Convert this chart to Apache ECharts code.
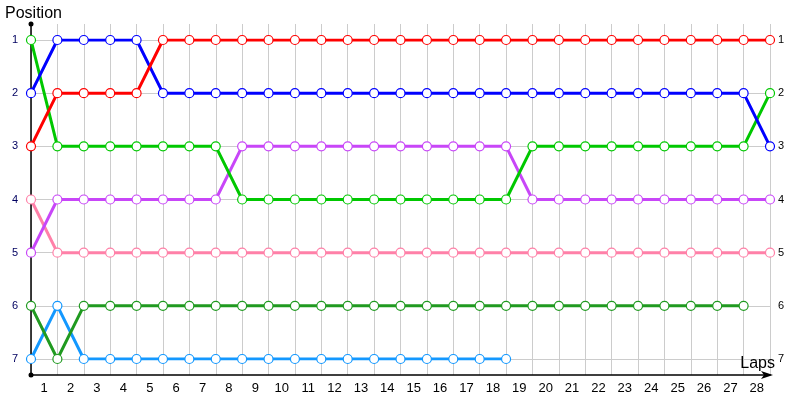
<!DOCTYPE html>
<html>
<head>
<meta charset="utf-8">
<script src="https://cdn.jsdelivr.net/npm/echarts@6/dist/echarts.min.js"></script>
<style>html,body{margin:0;padding:0;background:#fff}#c{width:800px;height:400px}</style>
</head>
<body>
<div id="c"></div>
<script>
// Lap points (0 = start, then end of each lap)
var laps = [0,1,2,3,4,5,6,7,8,9,10,11,12,13,14,15,16,17,18,19,20,21,22,23,24,25,26,27,28];
var lapLabels = ["1","2","3","4","5","6","7","8","9","10","11","12","13","14","15","16","17","18","19","20","21","22","23","24","25","26","27","28"];
var positionLabels = ["1","2","3","4","5","6","7"];

var redPos       = [3,2,2,2,2,1,1,1,1,1,1,1,1,1,1,1,1,1,1,1,1,1,1,1,1,1,1,1,1];
var bluePos      = [2,1,1,1,1,2,2,2,2,2,2,2,2,2,2,2,2,2,2,2,2,2,2,2,2,2,2,2,3];
var greenPos     = [1,3,3,3,3,3,3,3,4,4,4,4,4,4,4,4,4,4,4,3,3,3,3,3,3,3,3,3,2];
var purplePos    = [5,4,4,4,4,4,4,4,3,3,3,3,3,3,3,3,3,3,3,4,4,4,4,4,4,4,4,4,4];
var pinkPos      = [4,5,5,5,5,5,5,5,5,5,5,5,5,5,5,5,5,5,5,5,5,5,5,5,5,5,5,5,5];
var darkGreenPos = [6,7,6,6,6,6,6,6,6,6,6,6,6,6,6,6,6,6,6,6,6,6,6,6,6,6,6,6];
var lightBluePos = [7,6,7,7,7,7,7,7,7,7,7,7,7,7,7,7,7,7,7];

var driverSeries = [
  {pos: pinkPos, color: '#ff80a8'},
  {pos: lightBluePos, color: '#1398ff'},
  {pos: darkGreenPos, color: '#209a20'},
  {pos: purplePos, color: '#c846f8'},
  {pos: greenPos, color: '#00c800'},
  {pos: bluePos, color: '#0000ff'},
  {pos: redPos, color: '#ff0000'}
];

function pairs(pos){
  var out = [];
  for (var i = 0; i < pos.length; i++) out.push([laps[i], pos[i]]);
  return out;
}

var series = driverSeries.map(function(d){
  return {
    type: 'line',
    xAxisIndex: 0, yAxisIndex: 0,
    data: pairs(d.pos),
    symbol: 'circle',
    symbolSize: 9,
    showAllSymbol: true,
    lineStyle: {color: d.color, width: 3},
    itemStyle: {color: '#fff', borderColor: d.color, borderWidth: 1.2},
    emphasis: {disabled: true},
    animation: false,
    z: 3
  };
});

var chart = echarts.init(document.getElementById('c'), null, {renderer: 'canvas'});
chart.setOption({
  animation: false,
  title: [
    {text: 'Position', left: 5, top: 6, padding: 0, textStyle: {fontFamily: 'Liberation Sans', fontSize: 16, fontWeight: 'normal', color: '#000'}},
    {text: 'Laps', right: 25, top: 356, padding: 0, textStyle: {fontFamily: 'Liberation Sans', fontSize: 16, fontWeight: 'normal', color: '#000'}}
  ],
  grid: [
    {left: 31, right: 30, top: 40, bottom: 41, containLabel: false},
    {left: 31, right: 30, top: 24, bottom: 25, containLabel: false}
  ],
  xAxis: [
    {type: 'value', gridIndex: 0, min: 0, max: 28, interval: 1,
     axisLine: {show: false}, axisTick: {show: false}, axisLabel: {show: false}, splitLine: {show: false}},
    {type: 'category', gridIndex: 1, data: lapLabels, boundaryGap: true,
     axisLine: {show: true, symbol: ['none', 'arrow'], symbolSize: [6, 12], symbolOffset: [0, 3], lineStyle: {color: '#000', width: 1.5}},
     axisTick: {show: false},
     axisLabel: {show: true, margin: 7, fontFamily: 'Liberation Sans', fontSize: 13, color: '#000', interval: 0},
     splitLine: {show: true, interval: 0, lineStyle: {color: '#cccccc', width: 1}}}
  ],
  yAxis: [
    {type: 'value', gridIndex: 0, inverse: true, min: 1, max: 7, interval: 1, position: 'left',
     axisLine: {show: false}, axisTick: {show: false},
     axisLabel: {show: true, margin: 13, fontFamily: 'Liberation Sans', fontSize: 11, color: '#000060',
       formatter: function(v){ return positionLabels[v - 1] || ''; }},
     splitLine: {show: true, lineStyle: {color: '#cccccc', width: 1}}},
    {type: 'value', gridIndex: 0, inverse: true, min: 1, max: 7, interval: 1, position: 'right',
     axisLine: {show: false}, axisTick: {show: false},
     axisLabel: {show: true, margin: 8, fontFamily: 'Liberation Sans', fontSize: 11, color: '#000',
       formatter: function(v){ return positionLabels[v - 1] || ''; }},
     splitLine: {show: false}},
    {type: 'value', gridIndex: 1, min: 0, max: 1, position: 'left',
     axisLine: {show: true, symbol: ['circle', 'circle'], symbolSize: [5, 5], lineStyle: {color: '#000', width: 1.5}},
     axisTick: {show: false}, axisLabel: {show: false}, splitLine: {show: false}}
  ],
  series: series
});
</script>
</body>
</html>
